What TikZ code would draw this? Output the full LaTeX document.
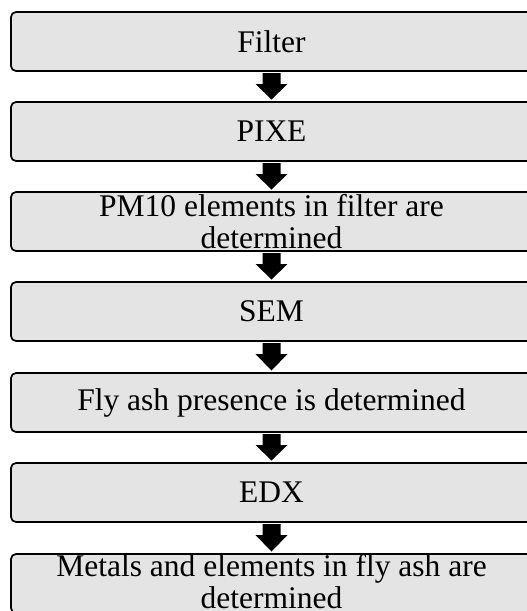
\documentclass[tikz,border=0pt]{standalone}
\usepackage{fontspec}
\setmainfont{Liberation Serif}
\usetikzlibrary{calc}
\definecolor{boxfill}{HTML}{E4E4E4}
\tikzset{
  stepbox/.style={draw=black, line width=1.7pt, fill=boxfill, rounded corners=5pt,
    minimum width=521pt, minimum height=59pt, inner sep=0pt, outer sep=0pt,
    align=center, font=\fontsize{31.5pt}{32.5pt}\selectfont},
  arrowfill/.style={fill=black}
}
\newcommand\flowarrow[2]{%
  \fill[arrowfill] let \p1=(#1.south), \p2=(#2.north) in
    (\x1-9pt,\y1-2pt) -- (\x1+9pt,\y1-2pt) -- (\x1+9pt,\y1-13pt) --
    (\x1+16pt,\y1-13pt) -- (\x1,\y2+2.5pt) -- (\x1-16pt,\y1-13pt) --
    (\x1-9pt,\y1-13pt) -- cycle;}
\begin{document}
\begin{tikzpicture}[x=1pt,y=1pt]
\useasboundingbox (0,0) rectangle (527,-611);
\clip (0,0) rectangle (527,-611);
\node[stepbox] (filter) at (271.5,-41.5) {Filter};
\node[stepbox] (pixe) at (271.5,-131.5) {PIXE};
\node[stepbox] (pm) at (271.5,-221.5) {PM10 elements in filter are\\determined};
\node[stepbox] (sem) at (271.5,-311.5) {SEM};
\node[stepbox] (fly) at (271.5,-402.5) {Fly ash presence is determined};
\node[stepbox] (edx) at (271.5,-492.5) {EDX};
\node[stepbox, text depth=4pt] (metals) at (271.5,-583.5) {Metals and elements in fly ash are\\determined};
\flowarrow{filter}{pixe}
\flowarrow{pixe}{pm}
\flowarrow{pm}{sem}
\flowarrow{sem}{fly}
\flowarrow{fly}{edx}
\flowarrow{edx}{metals}
\end{tikzpicture}
\end{document}
